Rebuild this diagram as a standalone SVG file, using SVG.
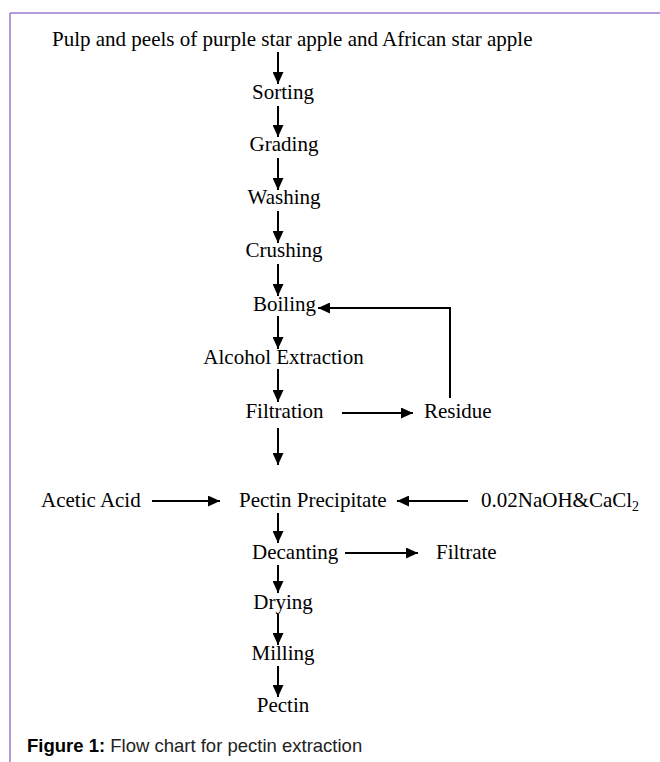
<svg xmlns="http://www.w3.org/2000/svg" width="660" height="762" viewBox="0 0 660 762">
<style>
.t{font-family:"Liberation Serif","Times New Roman",serif;font-size:21px;fill:#000}
.c{text-anchor:middle}
.ln{stroke:#000;stroke-width:2;fill:none}
.cap{font-family:"Liberation Sans",Arial,sans-serif;font-size:18.5px;fill:#222}
</style>
<defs>
<marker id="ah" markerUnits="userSpaceOnUse" markerWidth="13" markerHeight="11" refX="12" refY="5.5" orient="auto">
<path d="M0,0 L12,5.5 L0,11 z" fill="#000"/>
</marker>
</defs>
<rect width="660" height="762" fill="#fff"/>
<g id="frame" stroke="#9b7bd0" stroke-width="1.5">
<line x1="10" y1="13" x2="660" y2="13"/>
<line x1="10" y1="13" x2="10" y2="762"/>
</g>
<g id="connectors" class="ln" marker-end="url(#ah)">
<line x1="278" y1="52" x2="278" y2="84"/>
<line x1="278" y1="106" x2="278" y2="137"/>
<line x1="278" y1="158" x2="278" y2="190"/>
<line x1="278" y1="211" x2="278" y2="243"/>
<line x1="278" y1="264" x2="278" y2="296"/>
<line x1="278" y1="316" x2="278" y2="349"/>
<line x1="278" y1="369" x2="278" y2="402"/>
<line x1="278" y1="428" x2="278" y2="465"/>
<line x1="278" y1="513" x2="278" y2="543"/>
<line x1="278" y1="565" x2="278" y2="593"/>
<line x1="278" y1="614" x2="278" y2="645"/>
<line x1="278" y1="666" x2="278" y2="697"/>
<line x1="342" y1="413" x2="413" y2="413"/>
<polyline points="450,398 450,308 318,308"/>
<line x1="152" y1="501" x2="220" y2="501"/>
<line x1="468" y1="501" x2="397" y2="501"/>
<line x1="345" y1="553" x2="418" y2="553"/>
</g>
<g id="n-source"><text class="t" x="52" y="46">Pulp and peels of purple star apple and African star apple</text></g>
<g id="n-sorting"><text class="t c" x="283" y="99">Sorting</text></g>
<g id="n-grading"><text class="t c" x="284" y="151">Grading</text></g>
<g id="n-washing"><text class="t c" x="284" y="204">Washing</text></g>
<g id="n-crushing"><text class="t c" x="284" y="257">Crushing</text></g>
<g id="n-boiling"><text class="t c" x="284.5" y="311">Boiling</text></g>
<g id="n-alcohol"><text class="t c" x="283.5" y="364">Alcohol Extraction</text></g>
<g id="n-filtration"><text class="t c" x="284.5" y="418">Filtration</text></g>
<g id="n-residue"><text class="t" x="424" y="418">Residue</text></g>
<g id="n-acetic"><text class="t" x="41" y="507">Acetic Acid</text></g>
<g id="n-precipitate"><text class="t" x="239" y="507">Pectin Precipitate</text></g>
<g id="n-naoh"><text class="t" x="481" y="507">0.02NaOH&amp;CaCl<tspan font-size="14" dy="4">2</tspan></text></g>
<g id="n-decanting"><text class="t" x="252" y="559">Decanting</text></g>
<g id="n-filtrate"><text class="t" x="436" y="559">Filtrate</text></g>
<g id="n-drying"><text class="t c" x="283" y="609">Drying</text></g>
<g id="n-milling"><text class="t c" x="283" y="660">Milling</text></g>
<g id="n-pectin"><text class="t c" x="283" y="712">Pectin</text></g>
<g id="caption"><text class="cap" x="27" y="752"><tspan font-weight="bold" fill="#000">Figure 1:</tspan> Flow chart for pectin extraction</text></g>
</svg>
